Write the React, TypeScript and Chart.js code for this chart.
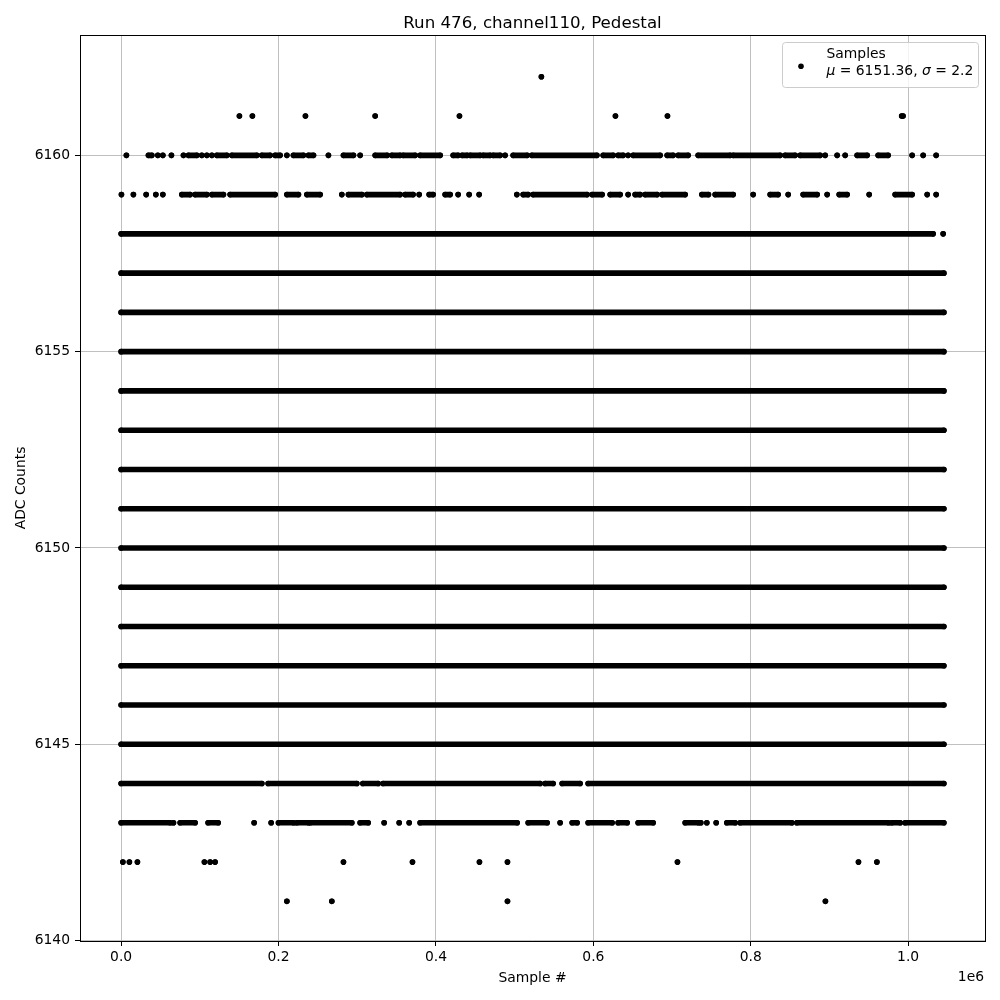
import React, { useEffect, useRef } from "react";
import { Chart, registerables } from "chart.js";

Chart.register(...registerables);

// ---------- text ----------
const chartTitle = "Run 476, channel110, Pedestal";
const xAxisLabel = "Sample #";
const yAxisLabel = "ADC Counts";
const xOffsetText = "1e6";
const seriesName = "Samples";
const meanAdc = 6151.36;
const sigmaAdc = 2.2;

// ---------- ticks / limits ----------
const xTickValues = [0, 200000, 400000, 600000, 800000, 1000000];
const xTickLabels = ["0.0", "0.2", "0.4", "0.6", "0.8", "1.0"];
const yTickValues = [6140, 6145, 6150, 6155, 6160];
const yLimits = [6139.99, 6163.065];

// ---------- data ----------
const firstSample = 0;
const lastSample = 1045400;

// ADC levels hit all along the run
const fullLevels = [6145, 6146, 6147, 6148, 6149, 6150, 6151, 6152, 6153, 6154, 6155, 6156, 6157];

// Sample ranges [from, to] seen at the rarer ADC levels (single samples: from == to)
const runs6141: [number, number][] = [
  [210600, 210600], [267700, 267700], [490900, 490900], [894900, 894900],
];
const runs6142: [number, number][] = [
  [2200, 2200], [10500, 10500], [20700, 20700], [105800, 105800], [113100, 113100],
  [119400, 119400], [282500, 282500], [370200, 370200], [455300, 455300],
  [490900, 490900], [706900, 706900], [936900, 936900], [960300, 960300],
];
const runs6143: [number, number][] = [
  [0, 62300], [66500, 66500], [75000, 94000], [110500, 123300], [169000, 169000],
  [190600, 190600], [199900, 218900], [223300, 238000], [240200, 293100],
  [303700, 313900], [334200, 334200], [353300, 353300], [366000, 366000],
  [379900, 503200], [517200, 541300], [557800, 557800], [573100, 579400],
  [593400, 623900], [631500, 643000], [656900, 676000], [716700, 733600],
  [736600, 736600], [744200, 744200], [756100, 756100], [769600, 780200],
  [786600, 852200], [858600, 975000], [979300, 989900], [996200, 1045400],
];
const runs6144: [number, number][] = [
  [0, 178800], [186800, 299500], [307100, 326600], [332900, 532400],
  [538800, 548900], [560400, 583200], [593400, 1045400],
];
const runs6158: [number, number][] = [
  [0, 1031800], [1044500, 1044500],
];
const runs6159: [number, number][] = [
  [400, 400], [15600, 15600], [31800, 31800], [44100, 44100], [53000, 53000],
  [77100, 87700], [94000, 108900], [115300, 130000], [138500, 195700],
  [210600, 225300], [236000, 252900], [280400, 280400], [288800, 305900],
  [312200, 354500], [360900, 371000], [378700, 378700], [391400, 396500],
  [411700, 418100], [428200, 428200], [442200, 442200], [454900, 454900],
  [502800, 502800], [510800, 517200], [523500, 592100], [598500, 611200],
  [621400, 634100], [644200, 644200], [653100, 659500], [665800, 681100],
  [687400, 716700], [737900, 746300], [754800, 777700], [803100, 803100],
  [824700, 834800], [847600, 847600], [866600, 884400], [897100, 897100],
  [912400, 922500], [950500, 950500], [983500, 1005100], [1024200, 1024200],
  [1035600, 1035600],
];
const runs6160: [number, number][] = [
  [6700, 6700], [34700, 39000], [46600, 46600], [53000, 53000], [63900, 63900],
  [79200, 79200], [85500, 96200], [102500, 102500], [108900, 108900],
  [115300, 115300], [121600, 134300], [140700, 172400], [178800, 189300],
  [195700, 202000], [210600, 210600], [218900, 231600], [238000, 244400],
  [263400, 263400], [282500, 295200], [303700, 303700], [322800, 338000],
  [344000, 354500], [358300, 373600], [379900, 405400], [421900, 428200],
  [433300, 439700], [443500, 456200], [460000, 468900], [472700, 481600],
  [487900, 487900], [498100, 515900], [521900, 604500], [612500, 625200],
  [631500, 637900], [644200, 644200], [650600, 684900], [693800, 701400],
  [707800, 720500], [733200, 773900], [777700, 837400], [843700, 856400],
  [862800, 888200], [894600, 894600], [909800, 909800], [920000, 920000],
  [935200, 947900], [961900, 974600], [1005100, 1005100], [1019100, 1019100],
  [1035600, 1035600],
];
const runs6161: [number, number][] = [
  [150300, 150300], [166800, 166800], [234200, 234200], [322800, 322800],
  [429900, 429900], [628100, 628100], [694200, 694200], [991800, 993500],
];
const runs6162: [number, number][] = [[534000, 534000]];

const partialLevels = [6141, 6142, 6143, 6144, 6158, 6159, 6160, 6161, 6162];
const partialRuns = [runs6141, runs6142, runs6143, runs6144, runs6158, runs6159, runs6160, runs6161, runs6162];

// ---------- styling ----------
const FONT = "'DejaVu Sans'";
const DOT_R = 2.8;

function runsToPoints(level: number, runs: [number, number][]) {
  const pts: { x: number; y: number | null }[] = [];
  runs.forEach(([a, b], i) => {
    if (i > 0) pts.push({ x: a, y: null });
    pts.push({ x: a, y: level });
    if (b !== a) pts.push({ x: b, y: level });
  });
  return pts;
}

export default function App() {
  const ref = useRef<HTMLCanvasElement | null>(null);

  useEffect(() => {
    if (!ref.current) return;
    const allLevels = [...fullLevels, ...partialLevels];
    const allRuns = [
      ...fullLevels.map(() => [[firstSample, lastSample]] as [number, number][]),
      ...partialRuns,
    ];
    const datasets = allLevels.map((lvl, i) => ({
      label: seriesName,
      data: runsToPoints(lvl, allRuns[i]),
      showLine: true,
      spanGaps: false,
      borderColor: "#000000",
      backgroundColor: "#000000",
      borderWidth: DOT_R * 2,
      borderCapStyle: "round" as const,
      pointRadius: DOT_R,
      pointBorderWidth: 0,
      pointBackgroundColor: "#000000",
      tension: 0,
    }));

    const xSpan = lastSample - firstSample;

    const decor = {
      id: "decor",
      afterDraw(chart: any) {
        const ctx = chart.ctx as CanvasRenderingContext2D;
        const a = chart.chartArea;
        ctx.save();
        // spines
        ctx.strokeStyle = "#000000";
        ctx.lineWidth = 1;
        ctx.strokeRect(Math.round(a.left) + 0.5, Math.round(a.top) + 0.5,
          Math.round(a.right) - Math.round(a.left), Math.round(a.bottom) - Math.round(a.top));

        ctx.fillStyle = "#000000";
        // title
        ctx.font = `16.67px ${FONT}`;
        ctx.textAlign = "center";
        ctx.textBaseline = "alphabetic";
        ctx.fillText(chartTitle, (a.left + a.right) / 2, 27.5);
        // x label
        ctx.font = `13.89px ${FONT}`;
        ctx.fillText(xAxisLabel, (a.left + a.right) / 2, 982.3);
        // offset text
        ctx.textAlign = "right";
        ctx.fillText(xOffsetText, a.right - 1, 980.7);
        // y label
        ctx.save();
        ctx.translate(25.2, (a.top + a.bottom) / 2);
        ctx.rotate(-Math.PI / 2);
        ctx.textAlign = "center";
        ctx.fillText(yAxisLabel, 0, 0);
        ctx.restore();

        // legend
        const bx = 782.5, by = 42.5, bw = 196, bh = 45, r = 3;
        ctx.beginPath();
        ctx.moveTo(bx + r, by);
        ctx.lineTo(bx + bw - r, by);
        ctx.arcTo(bx + bw, by, bx + bw, by + r, r);
        ctx.lineTo(bx + bw, by + bh - r);
        ctx.arcTo(bx + bw, by + bh, bx + bw - r, by + bh, r);
        ctx.lineTo(bx + r, by + bh);
        ctx.arcTo(bx, by + bh, bx, by + bh - r, r);
        ctx.lineTo(bx, by + r);
        ctx.arcTo(bx, by, bx + r, by, r);
        ctx.closePath();
        ctx.fillStyle = "rgba(255,255,255,0.8)";
        ctx.fill();
        ctx.strokeStyle = "#cccccc";
        ctx.lineWidth = 1;
        ctx.stroke();

        ctx.fillStyle = "#000000";
        ctx.beginPath();
        ctx.arc(801, 66.3, DOT_R, 0, Math.PI * 2);
        ctx.fill();

        ctx.textAlign = "left";
        ctx.font = `13.89px ${FONT}`;
        const tx = 826.5;
        ctx.fillText(seriesName, tx, 58.2);
        const parts: [string, boolean][] = [
          ["\u03bc", true],
          [` = ${meanAdc.toFixed(2)}, `, false],
          ["\u03c3", true],
          [` = ${sigmaAdc.toFixed(1)}`, false],
        ];
        let cx = tx;
        for (const [s, it] of parts) {
          ctx.font = `${it ? "italic " : ""}13.89px ${FONT}`;
          ctx.fillText(s, cx, 75.3);
          cx += ctx.measureText(s).width;
        }
        ctx.restore();
      },
    };

    const chart = new Chart(ref.current, {
      type: "scatter",
      data: { datasets },
      options: {
        animation: false,
        responsive: false,
        maintainAspectRatio: false,
        devicePixelRatio: 1,
        events: [],
        layout: { padding: { left: 0, top: 35, right: 15, bottom: 0 } },
        plugins: {
          legend: { display: false },
          tooltip: { enabled: false },
          title: { display: false },
        },
        scales: {
          x: {
            type: "linear",
            min: firstSample - 0.05 * xSpan,
            max: lastSample + 0.05 * xSpan,
            afterFit: (s: any) => { s.height = 59; },
            afterBuildTicks: (s: any) => { s.ticks = xTickValues.map((v) => ({ value: v })); },
            ticks: {
              autoSkip: false,
              maxRotation: 0,
              color: "#000000",
              padding: 3,
              font: { family: "DejaVu Sans", size: 13.89 },
              callback: (v: any) => {
                const i = xTickValues.indexOf(Number(v));
                return i >= 0 ? xTickLabels[i] : "";
              },
            },
            grid: {
              color: "#b0b0b0",
              lineWidth: 0.8,
              drawTicks: true,
              tickLength: 5,
              tickColor: "#000000",
              tickWidth: 1,
            },
            border: { display: false },
          },
          y: {
            type: "linear",
            min: yLimits[0],
            max: yLimits[1],
            afterFit: (s: any) => { s.width = 80; },
            afterBuildTicks: (s: any) => { s.ticks = yTickValues.map((v) => ({ value: v })); },
            ticks: {
              autoSkip: false,
              color: "#000000",
              padding: 5,
              font: { family: "DejaVu Sans", size: 13.89 },
              callback: (v: any) => String(v),
            },
            grid: {
              color: "#b0b0b0",
              lineWidth: 0.8,
              drawTicks: true,
              tickLength: 5,
              tickColor: "#000000",
              tickWidth: 1,
            },
            border: { display: false },
          },
        },
      },
      plugins: [decor],
    } as any);

    return () => chart.destroy();
  }, []);

  return (
    <div style={{ position: "absolute", left: 0, top: 0, width: 1000, height: 1000, background: "#ffffff" }}>
      <canvas ref={ref} width={1000} height={1000} style={{ display: "block" }} />
    </div>
  );
}
